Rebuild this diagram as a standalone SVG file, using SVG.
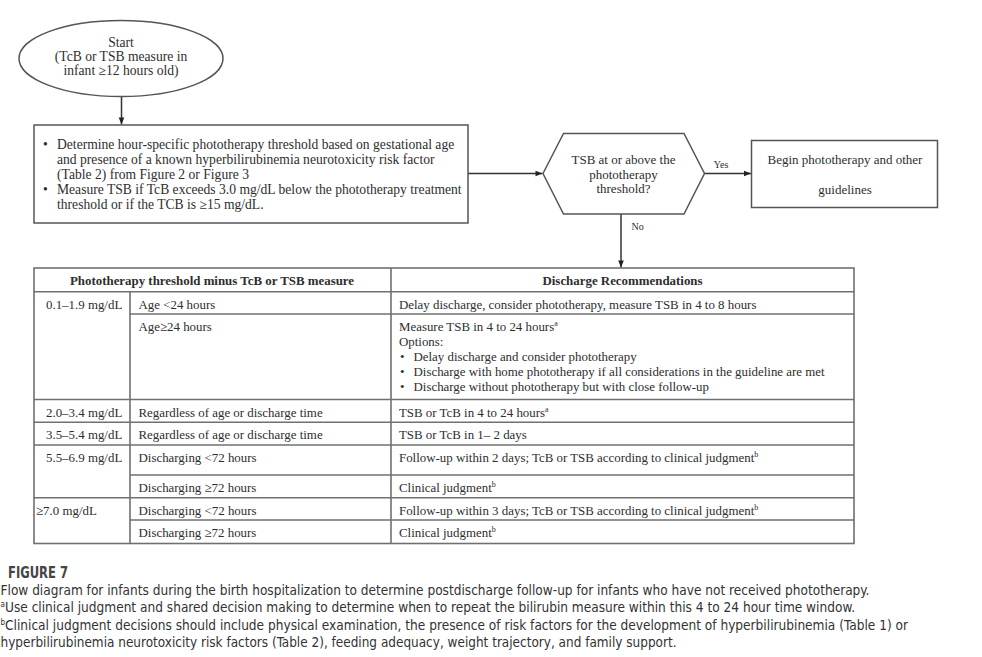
<svg xmlns="http://www.w3.org/2000/svg" width="982" height="657" viewBox="0 0 982 657">
<defs>
<style>
.t{font-family:"Liberation Serif","Times New Roman",serif;font-size:13px;fill:#2e2e2e}
.e{font-size:13.6px}
.bx{font-size:13.6px}
.s{font-size:12.9px}
.b{font-weight:bold}
.m{text-anchor:middle}
.lbl{font-size:10px}
.sup{font-size:8px}
.box{fill:#fff;stroke:#555;stroke-width:1.5}
.conn{stroke:#333;stroke-width:1.5;fill:none}
.grid{stroke:#707070;stroke-width:1.6;fill:none}
.cap{font-family:"Liberation Sans Narrow","DejaVu Sans Condensed","Liberation Sans",sans-serif;font-size:13.5px;fill:#333}
.capb{font-weight:bold;font-size:15px;fill:#444}
</style>
<marker id="ah" viewBox="0 0 10 10" refX="10" refY="5" markerWidth="8" markerHeight="7" orient="auto" markerUnits="userSpaceOnUse">
<path d="M0,1 L10,5 L0,9 z" fill="#222"/>
</marker>
</defs>
<rect width="982" height="657" fill="#fff"/>

<g id="connectors">
<line class="conn" x1="121.5" y1="96.5" x2="121.5" y2="124.5" marker-end="url(#ah)"/>
<line class="conn" x1="468" y1="173.5" x2="542.5" y2="173.5" marker-end="url(#ah)"/>
<line class="conn" x1="704.5" y1="173.5" x2="751" y2="173.5" marker-end="url(#ah)"/>
<line class="conn" x1="621" y1="214" x2="621" y2="267.5" marker-end="url(#ah)"/>
<text class="t lbl m" x="721" y="167.5">Yes</text>
<text class="t lbl" x="631.5" y="229.5">No</text>
</g>

<g id="start">
<ellipse class="box" cx="121" cy="58.5" rx="102" ry="38"/>
<text class="t e m" x="121" y="46.5">Start</text>
<text class="t e m" x="121" y="60.5">(TcB or TSB measure in</text>
<text class="t e m" x="121" y="75">infant ≥12 hours old)</text>
</g>

<g id="threshold">
<rect class="box" x="34" y="125" width="434" height="98"/>
<text class="t bx" x="43" y="148.5">•</text>
<text class="t bx" x="57" y="148.5">Determine hour-specific phototherapy threshold based on gestational age</text>
<text class="t bx" x="57" y="163.5">and presence of a known hyperbilirubinemia neurotoxicity risk factor</text>
<text class="t bx" x="57" y="178.5">(Table 2) from Figure 2 or Figure 3</text>
<text class="t bx" x="43" y="193.5">•</text>
<text class="t bx" x="57" y="193.5">Measure TSB if TcB exceeds 3.0 mg/dL below the phototherapy treatment</text>
<text class="t bx" x="57" y="208.5">threshold or if the TCB is  ≥15 mg/dL.</text>
</g>

<g id="decision">
<polygon class="box" points="543,173.5 563.5,133.5 684,133.5 704.5,173.5 684,214 563.5,214"/>
<text class="t m" x="623.5" y="164">TSB at or above the</text>
<text class="t m" x="623.5" y="178.5">phototherapy</text>
<text class="t m" x="623.5" y="193">threshold?</text>
</g>

<g id="begin">
<rect class="box" x="751.5" y="140.5" width="186" height="67"/>
<text class="t m" x="845" y="163.5">Begin phototherapy and other</text>
<text class="t m" x="845" y="194">guidelines</text>
</g>

<g id="table">
<rect class="grid" x="34" y="268" width="820" height="275.5"/>
<line class="grid" x1="130" y1="291.7" x2="130" y2="543.5"/>
<line class="grid" x1="391" y1="268" x2="391" y2="543.5"/>
<line class="grid" x1="34" y1="291.7" x2="854" y2="291.7"/>
<line class="grid" x1="130" y1="314" x2="854" y2="314"/>
<line class="grid" x1="34" y1="399.5" x2="854" y2="399.5"/>
<line class="grid" x1="34" y1="422.3" x2="854" y2="422.3"/>
<line class="grid" x1="34" y1="445" x2="854" y2="445"/>
<line class="grid" x1="130" y1="475" x2="854" y2="475"/>
<line class="grid" x1="34" y1="497.7" x2="854" y2="497.7"/>
<line class="grid" x1="130" y1="520" x2="854" y2="520"/>

<text class="t s b m" x="212" y="284.5">Phototherapy threshold minus TcB or TSB measure</text>
<text class="t s b m" x="622.5" y="284.5">Discharge Recommendations</text>

<text class="t s" x="46" y="308.5">0.1–1.9 mg/dL</text>
<text class="t s" x="138.5" y="308.5">Age &lt;24 hours</text>
<text class="t s" x="399" y="308.5">Delay discharge, consider phototherapy, measure TSB in 4 to 8 hours</text>

<text class="t s" x="138.5" y="331">Age≥24 hours</text>
<text class="t s" x="399" y="331">Measure TSB in 4 to 24 hours<tspan class="sup" dy="-5">a</tspan></text>
<text class="t s" x="399" y="345.5">Options:</text>
<text class="t s" x="400" y="361">•</text>
<text class="t s" x="413.5" y="361">Delay discharge and consider phototherapy</text>
<text class="t s" x="400" y="376">•</text>
<text class="t s" x="413.5" y="376">Discharge with home phototherapy if all considerations in the guideline are met</text>
<text class="t s" x="400" y="391">•</text>
<text class="t s" x="413.5" y="391">Discharge without phototherapy but with close follow-up</text>

<text class="t s" x="46" y="416.5">2.0–3.4 mg/dL</text>
<text class="t s" x="138.5" y="416.5">Regardless of age or discharge time</text>
<text class="t s" x="399" y="416.5">TSB or TcB in 4 to 24 hours<tspan class="sup" dy="-5">a</tspan></text>

<text class="t s" x="46" y="438.5">3.5–5.4 mg/dL</text>
<text class="t s" x="138.5" y="438.5">Regardless of age or discharge time</text>
<text class="t s" x="399" y="438.5">TSB or TcB in 1– 2 days</text>

<text class="t s" x="46" y="461.5">5.5–6.9 mg/dL</text>
<text class="t s" x="138.5" y="461.5">Discharging &lt;72 hours</text>
<text class="t s" x="399" y="461.5">Follow-up within 2 days; TcB or TSB according to clinical judgment<tspan class="sup" dy="-5">b</tspan></text>

<text class="t s" x="138.5" y="492">Discharging ≥72 hours</text>
<text class="t s" x="399" y="492">Clinical judgment<tspan class="sup" dy="-5">b</tspan></text>

<text class="t s" x="36" y="514.5">≥7.0 mg/dL</text>
<text class="t s" x="138.5" y="514.5">Discharging &lt;72 hours</text>
<text class="t s" x="399" y="514.5">Follow-up within 3 days; TcB or TSB according to clinical judgment<tspan class="sup" dy="-5">b</tspan></text>

<text class="t s" x="138.5" y="537">Discharging ≥72 hours</text>
<text class="t s" x="399" y="537">Clinical judgment<tspan class="sup" dy="-5">b</tspan></text>
</g>

<g id="caption">
<text class="cap capb" x="8" y="578" textLength="60" lengthAdjust="spacingAndGlyphs">FIGURE 7</text>
<text class="cap" x="0.5" y="595" textLength="869" lengthAdjust="spacingAndGlyphs">Flow diagram for infants during the birth hospitalization to determine postdischarge follow-up for infants who have not received phototherapy.</text>
<text class="cap" x="0.5" y="612"><tspan font-size="8" dy="-5">a</tspan><tspan x="5" dy="5" textLength="850" lengthAdjust="spacingAndGlyphs">Use clinical judgment and shared decision making to determine when to repeat the bilirubin measure within this 4 to 24 hour time window.</tspan></text>
<text class="cap" x="0.5" y="630"><tspan font-size="8" dy="-5">b</tspan><tspan x="5" dy="5" textLength="903" lengthAdjust="spacingAndGlyphs">Clinical judgment decisions should include physical examination, the presence of risk factors for the development of hyperbilirubinemia (Table 1) or</tspan></text>
<text class="cap" x="0.5" y="647" textLength="676" lengthAdjust="spacingAndGlyphs">hyperbilirubinemia neurotoxicity risk factors (Table 2), feeding adequacy, weight trajectory, and family support.</text>
</g>
</svg>
